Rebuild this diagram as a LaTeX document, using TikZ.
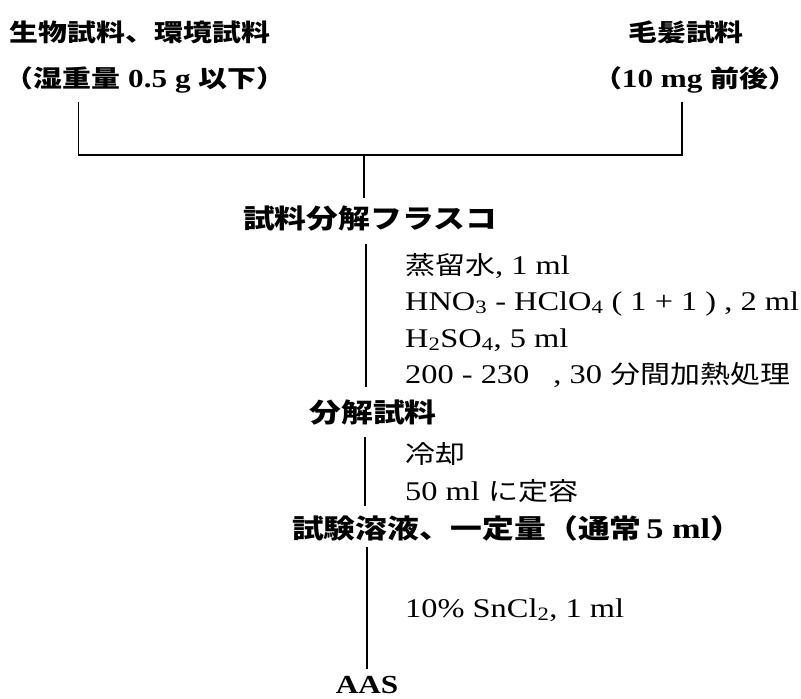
\documentclass[tikz,border=0pt]{standalone}
\usepackage{fontspec}
\setmainfont{Liberation Serif}[FakeStretch=1.2]
\newfontfamily\jp{Noto Sans CJK JP}[FakeStretch=1.2,Scale=0.926]
\begin{document}
\begin{tikzpicture}[x=1pt,y=-1pt,
  topt/.style={font=\fontsize{26}{30}\selectfont\bfseries, inner sep=0pt},
  head/.style={font=\fontsize{28.6}{32}\selectfont\bfseries, inner sep=0pt},
  txt/.style={font=\fontsize{27}{32}\selectfont, inner sep=0pt, anchor=base west},
  ln/.style={line width=1.7pt}]
\useasboundingbox (0,0) rectangle (801,699);
% sources
\node[topt] (bio1) at (140,32) {\jp 生物試料、環境試料};
\node[topt] (bio2) at (145,80) {{\jp （湿重量} 0.5 g {\jp 以下）}};
\node[topt] (hair1) at (686,32) {\jp 毛髪試料};
\node[topt] (hair2) at (695,80) {{\jp （}10 mg {\jp 前後）}};
% flask
\node[head] (flask) at (370,219) {\jp 試料分解フラスコ};
\node[txt] (r1) at (405,274) {{\jp 蒸留水}, 1 ml};
\node[txt] (r2) at (405,310) {HNO\textsubscript{3} - HClO\textsubscript{4} ( 1 + 1 ) , 2 ml};
\node[txt] (r3) at (405,347) {H\textsubscript{2}SO\textsubscript{4}, 5 ml};
\node[txt] (r4) at (405,383) {200 - 230\hspace{24pt}, 30 {\jp 分間加熱処理}};
% decomposed sample
\node[head] (dec) at (373,413) {\jp 分解試料};
\node[txt] (c1) at (405,463) {\jp 冷却};
\node[txt] (c2) at (405,500) {50 ml {\jp に定容}};
% test solution
\node[head] (test) at (517,528) {{\jp 試験溶液、一定量（通常}\,5 ml{\jp ）}};
\node[txt] (sn) at (405,617) {10\% SnCl\textsubscript{2}, 1 ml};
\node[font=\fontsize{26}{30}\selectfont\bfseries, inner sep=0pt, anchor=base] (aas) at (367,693) {AAS};
% connectors
\coordinate (lt) at (78.5,102);
\coordinate (lb) at (78.5,155);
\coordinate (rb) at (682,155);
\coordinate (rt) at (682,102);
\coordinate (mb) at (364,155);
\coordinate (xa) at (366,0);
\coordinate (xb) at (365,0);
\coordinate (xc) at (367,0);
\draw[ln] (lt) -- (lb) -- (rb) -- (rt);
\draw[ln] (mb) -- ([yshift=8pt]flask.north -| mb);
\draw[ln] ([yshift=-12pt]flask.south -| xa) -- ([yshift=13pt]dec.north -| xa);
\draw[ln] ([yshift=-11pt]dec.south -| xb) -- ([yshift=9pt]test.north -| xb);
\draw[ln] ([yshift=-6pt]test.south -| xc) -- ([yshift=7pt]aas.north -| xc);
\end{tikzpicture}
\end{document}
